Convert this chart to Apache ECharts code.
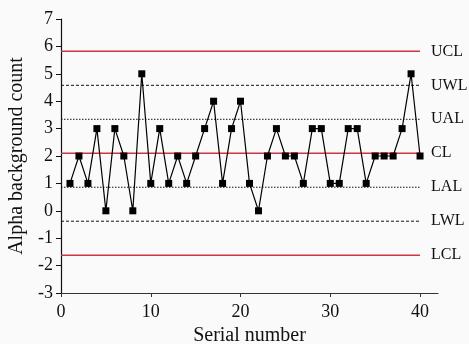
<!DOCTYPE html>
<html>
<head>
<meta charset="utf-8">
<script src="https://cdn.jsdelivr.net/npm/echarts@6/dist/echarts.min.js"></script>
<style>html,body{margin:0;padding:0;background:#fafafa;}#c{width:469px;height:344px;}</style>
</head>
<body>
<div id="c"></div>
<script>
const serial = [1,2,3,4,5,6,7,8,9,10,11,12,13,14,15,16,17,18,19,20,21,22,23,24,25,26,27,28,29,30,31,32,33,34,35,36,37,38,39,40];
const counts = [1,2,1,3,0,3,2,0,5,1,3,1,2,1,2,3,4,1,3,4,1,0,2,3,2,2,1,3,3,1,1,3,3,1,2,2,2,3,5,2];
const limitNames = ['UCL','UWL','UAL','CL','LAL','LWL','LCL'];
const limitValues = [5.82,4.58,3.34,2.1,0.86,-0.38,-1.62];
const limitKinds = ['control','warning','action','center','action','warning','control'];
const xTicks = [0,10,20,30,40];

const font = 'Liberation Serif, Times New Roman, serif';
const styleOf = {
  control: {color:'#ff1f2f', width:1.5, type:'solid'},
  center: {color:'#ff1f2f', width:1.5, type:'solid'},
  warning: {color:'#111', width:1, type:[3,2]},
  action: {color:'#111', width:1, type:[1.5,1.5]}
};

const series = [];
limitNames.forEach((n,i)=>{
  const s = styleOf[limitKinds[i]];
  series.push({
    type:'line', name:n, data:[[0,limitValues[i]],[40,limitValues[i]]],
    symbol:'none', silent:true, z:1,
    lineStyle:{color:s.color, width:s.width, type:s.type},
    endLabel:{show:true, formatter:n, color:'#111', fontFamily:font, fontSize:16, distance:11}
  });
});
series.push({
  type:'line', name:'count', data: serial.map((x,i)=>[x,counts[i]]),
  symbol:'rect', symbolSize:7, z:5,
  lineStyle:{color:'#000', width:1.2},
  itemStyle:{color:'#000'}
});

const chart = echarts.init(document.getElementById('c'), null, {renderer:'canvas'});
chart.setOption({
  backgroundColor:'#fafafa',
  animation:false,
  grid:{left:61, right:31, top:19, bottom:51, containLabel:false, outerBoundsMode:'none'},
  xAxis:{
    type:'value', min:0, max:42, interval:10, position:'bottom',
    name:'Serial number', nameLocation:'middle', nameGap:33,
    nameTextStyle:{fontFamily:font, fontSize:20, color:'#111'},
    axisLine:{onZero:false, lineStyle:{color:'#333', width:1.2}},
    axisTick:{show:true, length:4, customValues:xTicks, lineStyle:{color:'#333'}},
    axisLabel:{customValues:xTicks, fontFamily:font, fontSize:18, color:'#111', margin:10},
    splitLine:{show:false}
  },
  yAxis:{
    type:'value', min:-3, max:7, interval:1, position:'left',
    name:'Alpha background count', nameLocation:'middle', nameGap:32,
    nameTextStyle:{fontFamily:font, fontSize:20, color:'#111'},
    axisLine:{show:true, onZero:false, lineStyle:{color:'#111', width:1.2}},
    axisTick:{show:true, length:5, lineStyle:{color:'#111'}},
    axisLabel:{fontFamily:font, fontSize:18, color:'#111', margin:8},
    splitLine:{show:false}
  },
  series: series
});
</script>
</body>
</html>
